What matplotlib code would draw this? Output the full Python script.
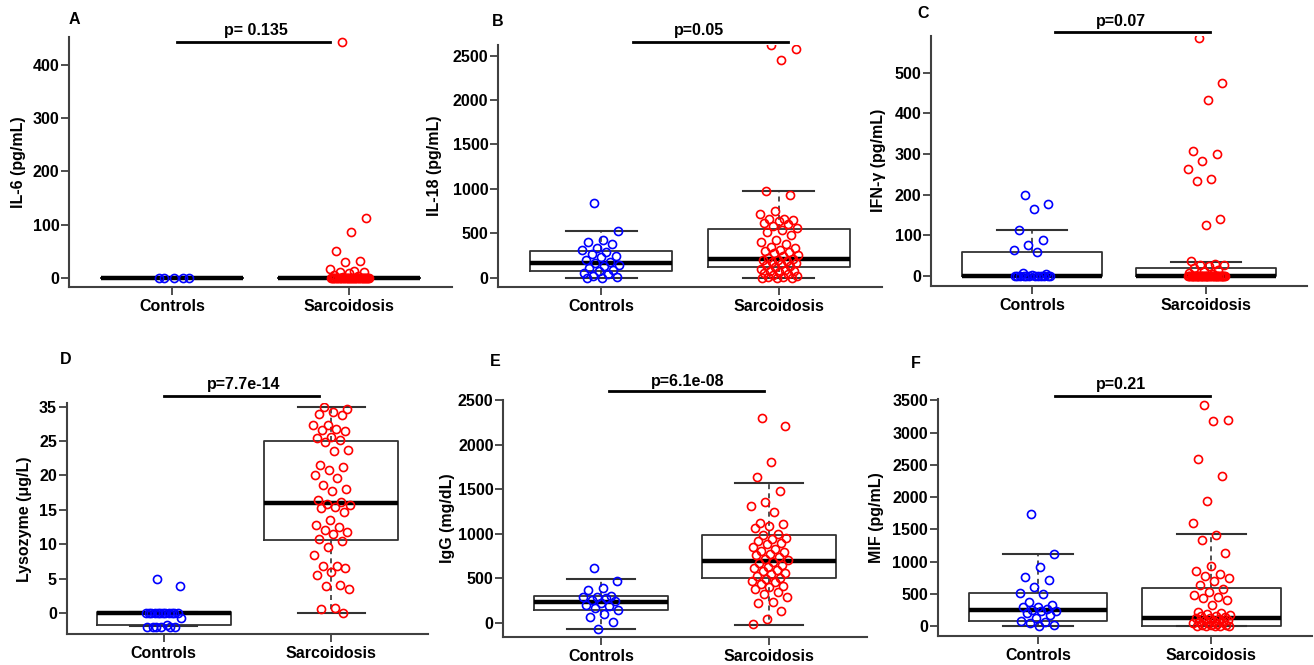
import matplotlib
matplotlib.use('Agg')
import matplotlib.pyplot as plt
import numpy as np

plt.rcParams['font.family'] = ['Liberation Sans', 'DejaVu Sans']
plt.rcParams['font.weight'] = 'bold'

groups = ['Controls', 'Sarcoidosis']

# ---- A: IL-6
il6_ctrl = [0, 0, 0, 0, 0]
il6_sarc = [443, 112, 85, 50, 32, 30, 17, 12, 10, 10, 8, 5, 3, 2] + [0] * 36
il6_box = [(0, 0, 0, 0, 0), (0, 0, 0, 0, 0)]  # whislo, q1, med, q3, whishi

# ---- B: IL-18
il18_ctrl = [840, 525, 420, 400, 385, 340, 310, 295, 270, 250, 230, 200, 180,
             160, 140, 130, 110, 90, 70, 50, 40, 20, 5, 0, 0]
il18_sarc = [2615, 2570, 2455, 975, 930, 755, 720, 665, 660, 655, 640, 620, 600,
             580, 560, 540, 520, 480, 430, 400, 380, 350, 340, 310, 300, 290, 280,
             260, 240, 220, 210, 200, 200, 190, 180, 170, 150, 140, 130, 120, 100,
             90, 80, 70, 60, 50, 40, 30, 20, 10, 5, 0, 0, 0]
il18_box = [(0, 70, 162, 300, 525), (0, 124, 210, 545, 976)]

# ---- C: IFN-gamma
ifn_ctrl = [200, 177, 164, 114, 89, 75, 63, 60, 8, 5, 3] + [0] * 12
ifn_sarc = [585, 475, 432, 306, 301, 282, 262, 238, 233, 140, 126, 37, 30, 28,
            26, 24, 20, 15, 12, 8, 5] + [0] * 40
ifn_box = [(0, 0, 0, 60, 113), (0, 0, 0, 20, 35)]

# ---- D: Lysozyme
lyso_ctrl = [5.0, 3.9] + [0] * 12 + [-0.8, -1.8, -2, -2, -2, -2, -2, -2]
lyso_sarc = [30.0, 29.7, 29.3, 28.9, 28.8, 27.4, 27.3, 26.8, 26.6, 26.4, 25.6,
             25.5, 25.1, 24.9, 23.7, 23.6, 21.5, 21.3, 20.8, 20.0, 19.7, 18.6,
             18.0, 17.8, 16.4, 16.2, 15.9, 15.7, 15.4, 15.2, 14.7, 13.5, 12.8,
             12.5, 12.0, 11.8, 11.5, 10.8, 10.5, 9.6, 8.4, 6.9, 6.8, 6.5, 6.0,
             5.5, 4.0, 3.9, 3.5, 0.7, 0.6, 0.0]
lyso_box = [(-1.9, -1.8, 0, 0.15, 0.15), (0, 10.6, 16.0, 25.0, 30.0)]
lyso_ticks = [0, 5, 10, 15, 20, 25, 30]
lyso_ticklabels = ['0', '5', '10', '15', '20', '25', '35']

# ---- E: IgG
igg_ctrl = [614, 471, 389, 364, 304, 293, 286, 275, 257, 246, 221, 204, 186,
            168, 150, 104, 61, 14, -64]
igg_sarc = [2293, 2203, 1803, 1639, 1478, 1357, 1311, 1239, 1125, 1114, 1089,
            1068, 996, 989, 953, 936, 918, 900, 882, 846, 829, 811, 793, 775,
            757, 739, 721, 703, 686, 668, 650, 632, 614, 596, 579, 561, 543, 525,
            507, 489, 471, 454, 436, 418, 400, 382, 346, 329, 286, 232, 221, 132,
            43, -11]
igg_box = [(-68, 140, 235, 303, 493), (-19, 500, 698, 982, 1570)]

# ---- F: MIF
mif_ctrl = [1730, 1115, 910, 760, 710, 610, 505, 500, 370, 320, 300, 290, 260,
            250, 240, 230, 200, 170, 120, 80, 60, 40, 20, 0]
mif_sarc = [3420, 3200, 3175, 2595, 2325, 1940, 1605, 1410, 1330, 1125, 935,
            855, 800, 780, 750, 700, 630, 580, 530, 480, 455, 440, 400, 325, 210,
            200, 180, 170, 160, 150, 140, 130, 120, 110, 100, 90, 80, 70, 60, 50,
            40, 30, 20, 15, 10, 5, 0, 0, 0, 0]
mif_box = [(0, 75, 255, 505, 1120), (0, 0, 125, 590, 1420)]

panels = [
    dict(letter='A', ylabel='IL-6 (pg/mL)', ctrl=il6_ctrl, sarc=il6_sarc, box=il6_box,
         ylim=(-18, 453), ticks=[0, 100, 200, 300, 400], labels=None, p='p= 0.135',
         px=(69, 452, 36.7, 287.3), lab_off=50, let=(74, 19),
         br=(1.03, 1.89, 0.98), pt=(1.475, 1.024)),
    dict(letter='B', ylabel='IL-18 (pg/mL)', ctrl=il18_ctrl, sarc=il18_sarc, box=il18_box,
         ylim=(-108, 2620), ticks=[0, 500, 1000, 1500, 2000, 2500], labels=None, p='p=0.05',
         px=(498, 882, 45, 287.3), lab_off=63, let=(498, 22),
         br=(1.18, 2.05, 1.014), pt=(1.55, 1.059)),
    dict(letter='C', ylabel='IFN-γ (pg/mL)', ctrl=ifn_ctrl, sarc=ifn_sarc, box=ifn_box,
         ylim=(-24, 590), ticks=[0, 100, 200, 300, 400, 500], labels=None, p='p=0.07',
         px=(931, 1307, 36, 285.7), lab_off=53, let=(923, 13),
         br=(1.13, 2.02, 1.015), pt=(1.51, 1.06)),
    dict(letter='D', ylabel='Lysozyme (μg/L)', ctrl=lyso_ctrl, sarc=lyso_sarc, box=lyso_box,
         ylim=(-3.1, 30.5), ticks=lyso_ticks, labels=lyso_ticklabels, p='p=7.7e-14',
         px=(66.7, 428.3, 403.3, 634.3), lab_off=42, let=(66, 360),
         br=(1.0, 1.93, 1.033), pt=(1.475, 1.082)),
    dict(letter='E', ylabel='IgG (mg/dL)', ctrl=igg_ctrl, sarc=igg_sarc, box=igg_box,
         ylim=(-155, 2500), ticks=[0, 500, 1000, 1500, 2000, 2500], labels=None, p='p=6.1e-08',
         px=(503.3, 866.7, 400, 636.7), lab_off=56, let=(495, 362),
         br=(1.05, 1.97, 1.038), pt=(1.516, 1.08)),
    dict(letter='F', ylabel='MIF (pg/mL)', ctrl=mif_ctrl, sarc=mif_sarc, box=mif_box,
         ylim=(-150, 3516), ticks=[0, 500, 1000, 1500, 2000, 2500, 3000, 3500], labels=None,
         p='p=0.21', px=(937.7, 1311.7, 399.3, 635.7), lab_off=61, let=(916, 363),
         br=(1.1, 1.99, 1.015), pt=(1.477, 1.063)),
]

W, H = 1314, 665
fig = plt.figure(figsize=(W / 100, H / 100), dpi=100)
axc = '#404040'
fs = 11.5


def jitter(n):
    return ((np.arange(n) * 0.6180339887 + 0.31) % 1.0 - 0.5) * 0.22


for p in panels:
    l, r, t, b = p['px']
    ax = fig.add_axes([l / W, 1 - b / H, (r - l) / W, (b - t) / H])
    stats = []
    for (lo, q1, med, q3, hi) in p['box']:
        stats.append(dict(whislo=lo, q1=q1, med=med, q3=q3, whishi=hi, fliers=[]))
    ax.bxp(stats, positions=[1, 2], widths=0.8, capwidths=0.4, showfliers=False,
           boxprops=dict(color='#333333', lw=1.3),
           medianprops=dict(color='black', lw=3.2),
           whiskerprops=dict(color='#333333', lw=1.2, ls=(0, (3, 2.5))),
           capprops=dict(color='#333333', lw=1.5))
    for i, (vals, col) in enumerate([(p['ctrl'], 'blue'), (p['sarc'], 'red')]):
        vals = np.array(vals, dtype=float)
        ax.plot(i + 1 + jitter(len(vals)), vals, 'o', mfc='none', mec=col,
                ms=5.8, mew=1.2, zorder=5)
    ax.set_xlim(0.42, 2.58)
    ax.set_ylim(*p['ylim'])
    ax.set_xticks([1, 2])
    ax.set_xticklabels(groups, fontsize=fs, fontweight='bold')
    ax.set_yticks(p['ticks'])
    ax.set_yticklabels(p['labels'] if p['labels'] else [str(v) for v in p['ticks']],
                       fontsize=fs, fontweight='bold')
    for s in ['top', 'right']:
        ax.spines[s].set_visible(False)
    for s in ['left', 'bottom']:
        ax.spines[s].set_color(axc)
        ax.spines[s].set_linewidth(1.5)
    ax.tick_params(axis='both', length=5.5, width=1.3, color=axc)
    ax.tick_params(axis='y', pad=1.5)
    ax.tick_params(axis='x', pad=3)
    ax.set_ylabel(p['ylabel'], fontsize=fs, fontweight='bold')
    ax.yaxis.label.set_va('center')
    ax.yaxis.set_label_coords(-p['lab_off'] / (r - l), 0.5)
    x0, x1, yb = p['br']
    ax.plot([x0, x1], [yb, yb], color='black', lw=2,
            transform=ax.get_xaxis_transform(), clip_on=False)
    ax.text(p['pt'][0], p['pt'][1], p['p'], transform=ax.get_xaxis_transform(),
            ha='center', va='center', fontsize=fs, fontweight='bold')
    fig.text(p['let'][0] / W, 1 - p['let'][1] / H, p['letter'], ha='center',
             va='center', fontsize=fs, fontweight='bold')

fig.savefig('out.png', dpi=100)
